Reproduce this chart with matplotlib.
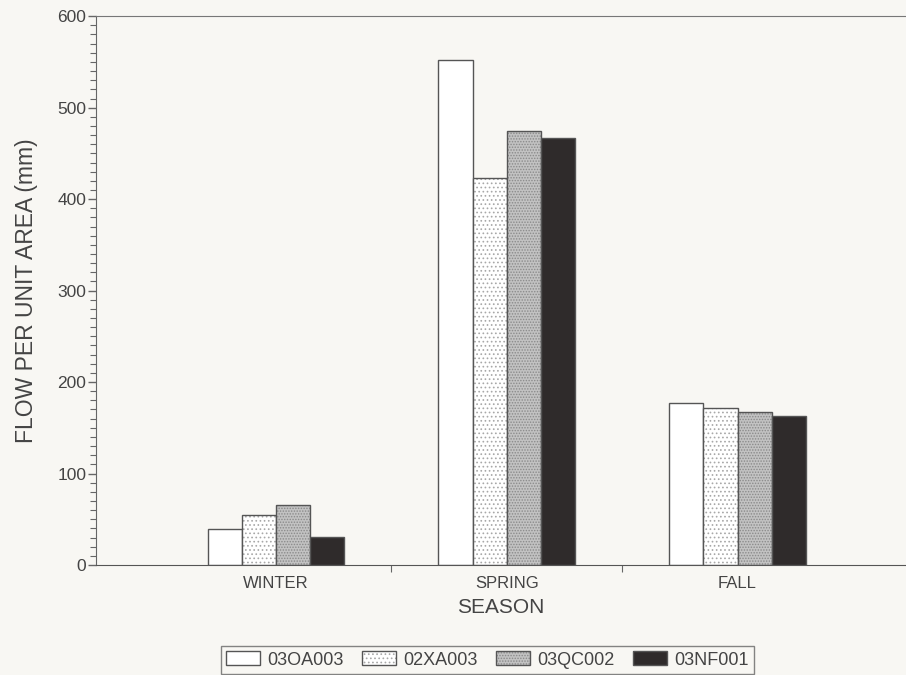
import numpy as np
import matplotlib.pyplot as plt
from matplotlib.patches import Patch
from matplotlib.ticker import MultipleLocator

plt.rcParams['font.family'] = ['Liberation Sans', 'DejaVu Sans']
plt.rcParams['hatch.linewidth'] = 0.7

# seasonal flow per unit area (mm) for each station
seasons = ['WINTER', 'SPRING', 'FALL']
stations = ['03OA003', '02XA003', '03QC002', '03NF001']
flow_03OA003 = [39, 552, 177]
flow_02XA003 = [55, 423, 172]
flow_03QC002 = [66, 474, 167]
flow_03NF001 = [31, 467, 163]

series = [flow_03OA003, flow_02XA003, flow_03QC002, flow_03NF001]
fills = ['white', 'white', '#c2c2c2', '#2f2b2b']
hatches = [None, '....', '......', None]
hatch_cols = ['white', '#a8a8a8', '#8a8a8a', '#2f2b2b']

paper = '#f8f7f3'
ink = '#444444'

fig = plt.figure(figsize=(9.06, 6.75), dpi=100, facecolor=paper)
ax = fig.add_axes([0.106, 0.163, 0.894, 0.813], facecolor=paper)

x = np.arange(len(seasons))
w = 0.148
handles = []
for i, vals in enumerate(series):
    pos = x + (i - 1.5) * w
    ax.bar(pos, vals, w, color=fills[i], hatch=hatches[i],
           edgecolor=hatch_cols[i], linewidth=0)
    ax.bar(pos, vals, w, fill=False, edgecolor='#555555', linewidth=1.0)
    handles.append((Patch(facecolor=fills[i], hatch=hatches[i],
                          edgecolor=hatch_cols[i], linewidth=0),
                    Patch(fill=False, edgecolor='#555555', linewidth=1.0)))

ax.set_xlim(-0.78, 2.73)
ax.set_ylim(0, 600)

ax.spines['right'].set_visible(False)
ax.spines['top'].set_color('#777777')
ax.spines['left'].set_color('#666666')
ax.spines['bottom'].set_color('#555555')

ax.yaxis.set_major_locator(MultipleLocator(100))
ax.yaxis.set_minor_locator(MultipleLocator(10))
ax.tick_params(axis='y', which='major', length=6, width=1, color='#666666',
               labelsize=12.5, labelcolor=ink, pad=1)
ax.tick_params(axis='y', which='minor', length=4, width=0.8, color='#666666')

# category labels sit between the separator ticks
ax.set_xticks([0.5, 1.5])
ax.set_xticklabels([])
ax.set_xticks(x, minor=True)
ax.set_xticklabels(seasons, minor=True)
ax.tick_params(axis='x', which='major', length=5, color='#666666')
ax.tick_params(axis='x', which='minor', length=0, labelsize=12,
               labelcolor=ink, pad=8)

ax.set_xlabel('SEASON', fontsize=15, color=ink, labelpad=5)
ax.set_ylabel('FLOW PER UNIT AREA (mm)', fontsize=16.5, color=ink, labelpad=14)

leg = fig.legend(handles, stations, loc='lower center', ncol=4,
                 bbox_to_anchor=(0.538, -0.012), frameon=True, fancybox=False,
                 fontsize=13, handlelength=1.9, handleheight=0.8,
                 handletextpad=0.4, columnspacing=1.0, borderpad=0.3,
                 edgecolor='#666666', facecolor=paper)
for t in leg.get_texts():
    t.set_color(ink)
leg.get_frame().set_linewidth(1.0)

fig.savefig('out.png', dpi=100, facecolor=paper)
